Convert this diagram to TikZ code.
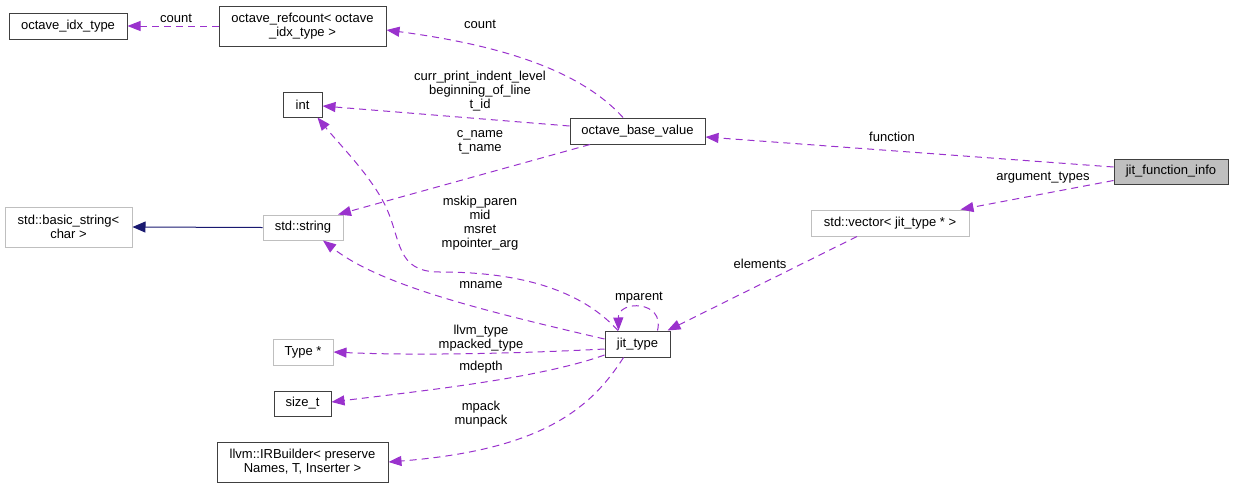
\documentclass[tikz,border=0pt]{standalone}
\usepackage{fontspec}
\setmainfont{Liberation Sans}
\usetikzlibrary{arrows.meta}

\definecolor{usepurple}{HTML}{9A32CD}
\definecolor{inhblue}{HTML}{191970}
\definecolor{extgray}{HTML}{BFBFBF}

\begin{document}
\begin{tikzpicture}[
        x=1pt, y=-1pt,
        font=\fontsize{13}{14}\selectfont,
        box/.style={draw=black!75, line width=1pt, rectangle, inner sep=0pt, align=center, fill=white},
        extbox/.style={box, draw=extgray},
        lbl/.style={inner sep=0pt, align=center},
        uses/.style={-{Triangle[length=13pt,width=10pt]}, usepurple, dash pattern=on 7pt off 5pt, line width=1pt},
        inherit/.style={-{Triangle[length=13pt,width=11pt]}, inhblue, line width=1pt}
    ]
        \useasboundingbox (0,0) rectangle (1233,488);

        % classes
        \node[box, minimum width=118pt, minimum height=26pt] (idx) at (68,26) {octave\_idx\_type};
        \node[box, minimum width=167pt, minimum height=40pt] (refcount) at (302.5,26) {octave\_refcount< octave\\\_idx\_type >};
        \node[box, minimum width=39pt, minimum height=25pt] (int) at (302.5,104.5) {int};
        \node[extbox, minimum width=127pt, minimum height=40pt] (basicstr) at (68.5,227) {std::basic\_string<\\char >};
        \node[extbox, minimum width=80pt, minimum height=25pt] (stdstr) at (303,227.5) {std::string};
        \node[box, minimum width=135pt, minimum height=26pt] (obv) at (637.5,131) {octave\_base\_value};
        \node[box, fill=extgray, minimum width=114pt, minimum height=25pt] (jfi) at (1171,171.5) {jit\_function\_info};
        \node[extbox, minimum width=158pt, minimum height=26pt] (vec) at (890,223) {std::vector< jit\_type * >};
        \node[box, minimum width=65pt, minimum height=26pt] (jit) at (637.5,344) {jit\_type};
        \node[extbox, minimum width=60pt, minimum height=26pt] (typeptr) at (303,352) {Type *};
        \node[box, minimum width=57pt, minimum height=25pt] (sizet) at (302.5,403.5) {size\_t};
        \node[box, minimum width=171pt, minimum height=40pt] (irb) at (302.5,462) {llvm::IRBuilder< preserve\\Names, T, Inserter >};

        % connectors
        \draw[inherit] (stdstr.west) -- (basicstr.east);
        \draw[uses] (refcount.west) -- (idx.east);
        \draw[uses] ([xshift=-14.5pt]obv.north) .. controls (580,70) and (500,45) .. ([yshift=-4pt]refcount.east);
        \draw[uses] ([yshift=5pt]obv.west) -- ([yshift=-1.5pt]int.east);
        \draw[uses] ([xshift=-47.5pt]obv.south) -- ([xshift=35pt]stdstr.north);
        \draw[uses] ([yshift=4.5pt]jfi.west) -- ([yshift=-6pt]obv.east);
        \draw[uses] ([yshift=-9pt]jfi.west) -- ([xshift=-9pt]vec.north east);
        \draw[uses] ([xshift=-33pt]vec.south) -- ([xshift=-3pt]jit.north east);
        \draw[uses] ([xshift=-19.5pt]jit.north) .. controls (590,300) and (540,272) .. (440,272)
            .. controls (395,272) and (402,240) .. (385,205)
            .. controls (370,175) and (340,145) .. ([xshift=15pt]int.south);
        \draw[uses] ([yshift=5pt]jit.west) .. controls (480,310) and (380,285) .. ([xshift=20pt]stdstr.south);
        \draw[uses] ([yshift=-5pt]jit.west) .. controls (530,353) and (420,356) .. (typeptr.east);
        \draw[uses] ([yshift=-11pt]jit.west) .. controls (540,378) and (430,390) .. ([yshift=1.5pt]sizet.east);
        \draw[uses] ([xshift=-14pt]jit.south) .. controls (590,410) and (540,450) .. (irb.east);
        \draw[uses] ([xshift=20pt]jit.north) .. controls (665,300) and (618,300) .. ([xshift=-19pt]jit.north);

        % labels
        \node[lbl] (lcount) at (176,18) {count};
        \node[lbl] (lrefc) at (480,24) {count};
        \node[lbl] (lint) at (480,91) {curr\_print\_indent\_level\\beginning\_of\_line\\t\_id};
        \node[lbl] (lname) at (480,142) {c\_name\\t\_name};
        \node[lbl] (lfunc) at (892,137) {function};
        \node[lbl] (largs) at (1043,178) {argument\_types};
        \node[lbl] (lelem) at (760,264) {elements};
        \node[lbl] (lmskip) at (480,223.5) {mskip\_paren\\mid\\msret\\mpointer\_arg};
        \node[lbl] (lmname) at (481,285) {mname};
        \node[lbl] (lparent) at (639,298) {mparent};
        \node[lbl] (lllvm) at (481,338) {llvm\_type\\mpacked\_type};
        \node[lbl] (ldepth) at (481,367) {mdepth};
        \node[lbl] (lpack) at (481,414) {mpack\\munpack};
    \end{tikzpicture}
\end{document}
